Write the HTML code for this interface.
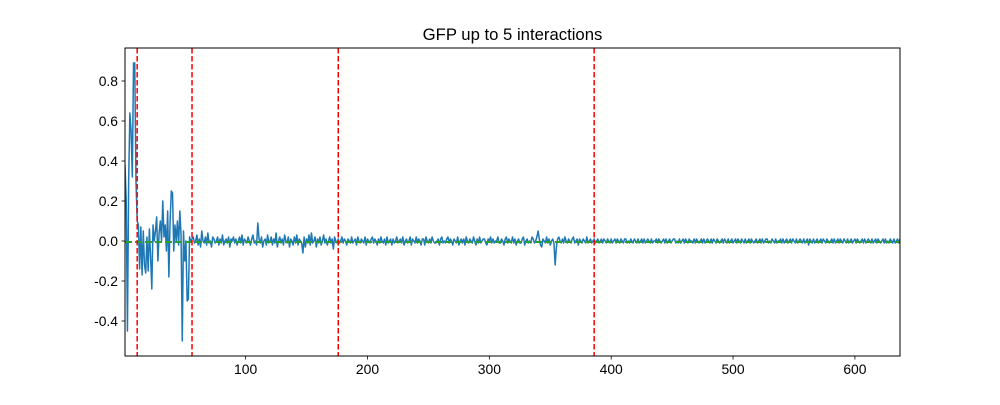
<!DOCTYPE html>
<html><head><meta charset="utf-8"><style>
body{margin:0;background:#fff;width:1000px;height:400px;overflow:hidden}
svg text{font-family:"Liberation Sans","DejaVu Sans",sans-serif;fill:#000}
</style></head><body>
<svg id="chart" width="1000" height="400" xmlns="http://www.w3.org/2000/svg"></svg>
<script>
const seg1 = [0.38,0.2,-0.45,0.3,0.64,0.55,0.32,0.89,0.89,0.3,0.1,0.08,-0.14,0.07,-0.17,0.05,-0.12,-0.16,0.02,-0.15,0.06,-0.08,-0.24,0.08,0.0,0.05,0.12,-0.1,0.04,0.1,0.0,0.2,0.02,0.08,-0.05,0.15,-0.18,0.1,0.25,0.24,-0.05,0.08,0.0,0.1,-0.02,0.15,0.03,-0.5,0.05,-0.1,0.0,-0.3,-0.29,0.02,0.0];
const seg2 = [1,2,-1,0,3,-2,1,-3,5,0,-1,2,-2,4,-1,0,-3,2,1,-1,0,2,-2,1,-1,3,-2,0,1,-1,2,-3,1,0,2,-1,1,-2,0,2,-1,3,-2,1,0,-1,2,0,-2,1,3,-1,0,-2,9,1,-1,2,-3,0,1,-2,3,-1,0,2,-2,1,-1,4,-3,0,2,-1,1,-2,3,0,-1,2,-3,1,0,-2,2,-1,3,-2,1,0,-1,-6,2,-3,1,-1,3,-2,4,-1,0,2,-3,1,-1,2,-2,0,3,-1,1,-2,0,2,-1,1,-4,2,0,-1];
const seg3 = [1,-1,0,2,-1,1,0,-2,1,0,-1,2,-1,0,1,-2,2,0,-1,1,0,-1,2,-2,1,0,-1,1,2,-1,1,0,-2,1,-1,2,0,-1,1,-2,2,-1,0,1,-2,1,-1,0,2,-1,0,1,-1,2,-2,0,1,-1,0,2,-2,1,0,-1,2,-1,1,0,-2,1,1,-2,2,0,-1,1,-1,2,0,-1,-1,0,1,-2,1,2,-1,0,-1,1,2,-1,1,0,-2,1,0,-1,2,-2,0,1,-1,1,-2,2,0,-1,1,0,-1,2,0,-2,1,-1,2,-1,0,1,1,-1,-2,1,0,2,-1,1,-1,0,0,2,-1,-1,1,0,-2,1,2,-1,1,0,-1,2,-1,1,-2,0,1,-1,-1,1,2,-2,0,1,-1,0,-1,2,1,-1,0,2,5,1,-2,-3,1,0,-1,2,-1,1,-2,0,1,-1,-12,-3,1,2,0,-1,1,-1,2,0,-1,1,0,-1,1,2,-1,0,1,-2,1,0,-1,1,0,-1,2,-1,0,1,-1,0];
const seg4 = [1,-1,0,1,-1,0,1,-1,1,0,-1,1,0,-1,1,-1,0,1,-1,1,0,-1,1,0,-1,1,1,-1,0,-1,1,0,-1,1,0,-1,1,-1,0,1,-1,1,-1,0,1,0,-1,1,-1,0,0,1,-1,1,0,-1,0,1,-1,1,-1,0,1,-1,0,1,1,-1,0,-1,1,-1,0,1,-1,1,0,-1,1,0,0,-1,1,-1,1,0,-1,0,1,-1,1,-1,0,1,0,-1,1,-1,1,0,-1,1,0,-1,0,1,-1,1,0,-1,1,-1,0,1,-1,0,1,-1,1,0,-1,1,0,-1,1,-1,0,1,-1,1,0,-1,0,1,-1,0,1,-1,1,-1,0,1,1,-1,0,-1,1,0,-1,1,-1,0,0,1,-1,1,-1,0,1,-1,0,1,-1,1,0,-1,1,-1,0,1,0,-1,1,-1,0,1,-2,1,0,-1,1,-1,0,1,-1,0,1,-1,1,0,-1,1,0,-1,0,1,-1,1,-1,0,1,-1,1,0,-1,1,0,-1,1,-1,0,1,-1,0,1,-1,1,0,-1,0,1,-1,1,-1,0,1,0,-1,1,-1,0,1,-1,1,0,-1,0,1,-1,1,-1,0,-1,1,0,-1,1,-1,0,1,-1,1,0,-1];
const breaks = [11, 56, 176, 386];
const meanValue = -0.005;
const xTicks = [100,200,300,400,500,600];
const yTicks = [-0.4,-0.2,0.0,0.2,0.4,0.6,0.8];
const title = "GFP up to 5 interactions";

const values = seg1.concat(seg2.map(v=>v/100), seg3.map(v=>v/100), seg4.map(v=>v/100));
const L=125,R=900,T=48,B=356;
const xMin=1,xMax=637,yMin=-0.575,yMax=0.965;
const X=v=>L+(v-xMin)/(xMax-xMin)*(R-L);
const Y=v=>B-(v-yMin)/(yMax-yMin)*(B-T);
const svg=document.getElementById('chart');
const NS='http://www.w3.org/2000/svg';
function mk(tag,attrs,parent){const e=document.createElementNS(NS,tag);for(const k in attrs)e.setAttribute(k,attrs[k]);(parent||svg).appendChild(e);return e;}

const defs=mk('defs',{});
const cp=mk('clipPath',{id:'clip'},defs);
mk('rect',{x:L,y:T,width:R-L,height:B-T},cp);
const plot=mk('g',{'clip-path':'url(#clip)'});



let d='';
values.forEach((v,i)=>{d+=(i?'L':'M')+X(i+1).toFixed(2)+' '+Y(v).toFixed(2);});
const line=mk('path',{d:d,fill:'none',stroke:'#1f77b4','stroke-width':1.5,'stroke-linejoin':'round'},plot);



const mean=mk('line',{x1:L,x2:R,y1:Y(meanValue),y2:Y(meanValue),stroke:'#2ca02c','stroke-width':2,'stroke-dasharray':'7,3'},plot);



breaks.forEach(b=>{
  const l=mk('line',{x1:X(b),x2:X(b),y1:T,y2:B,stroke:'#ff0000','stroke-width':1.5,'stroke-dasharray':'5.5,2.5'},plot);
  
  
});

const frame=mk('rect',{x:L,y:T,width:R-L,height:B-T,fill:'none',stroke:'#000','stroke-width':1});



xTicks.forEach(t=>{
  const x=X(t);
  const tk=mk('line',{x1:x,x2:x,y1:B,y2:B+3.5,stroke:'#000','stroke-width':0.8});
  
  
  const tx=mk('text',{x:x,y:B+18,'text-anchor':'middle','font-size':13.9});
  tx.textContent=t;
  
  
});
yTicks.forEach(t=>{
  const y=Y(t);
  const tk=mk('line',{x1:L-3.5,x2:L,y1:y,y2:y,stroke:'#000','stroke-width':0.8});
  
  
  const tx=mk('text',{x:L-7,y:y+5,'text-anchor':'end','font-size':13.9});
  tx.textContent=t.toFixed(1);
  
  
});
const tt=mk('text',{x:(L+R)/2,y:40,'text-anchor':'middle','font-size':16.7});
tt.textContent=title;


</script>
</body></html>
